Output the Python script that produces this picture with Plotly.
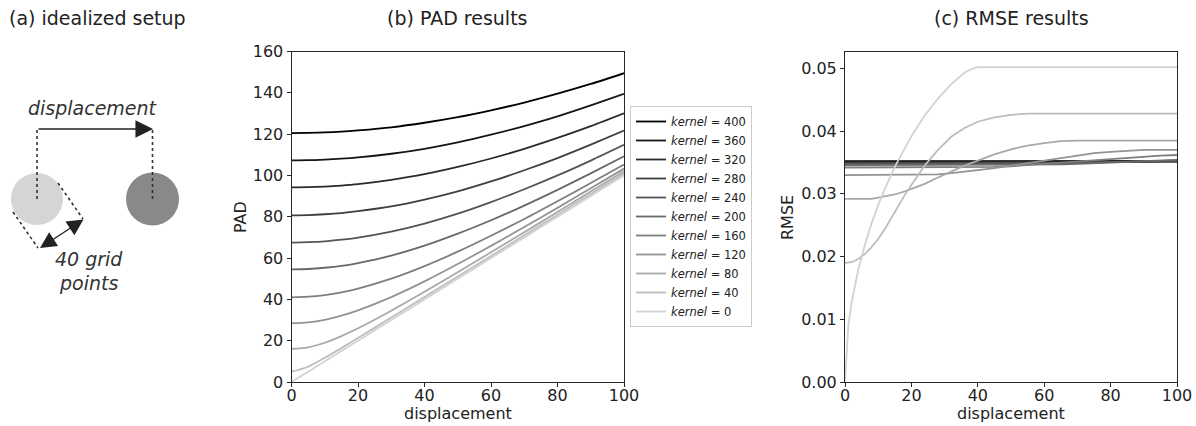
import plotly.graph_objects as go

W, H = 1196, 426

# ---------------- data ----------------
kernels = [400, 360, 320, 280, 240, 200, 160, 120, 80, 40, 0]

pad_disp = [0, 5, 10, 15, 20, 30, 40, 50, 60, 70, 80, 90, 100]
pad_k400 = [120.5, 120.6, 120.8, 121.2, 121.8, 123.3, 125.5, 128.2, 131.5, 135.3, 139.6, 144.3, 149.5]
pad_k360 = [107.3, 107.4, 107.7, 108.1, 108.7, 110.5, 112.9, 116.0, 119.7, 123.9, 128.6, 133.9, 139.5]
pad_k320 = [94.2, 94.3, 94.6, 95.1, 95.8, 97.9, 100.6, 104.1, 108.2, 112.9, 118.2, 123.9, 130.1]
pad_k280 = [80.7, 80.8, 81.2, 81.8, 82.7, 85.0, 88.3, 92.3, 97.1, 102.5, 108.4, 114.9, 121.7]
pad_k240 = [67.5, 67.7, 68.1, 68.9, 69.9, 72.8, 76.7, 81.5, 87.1, 93.3, 100.0, 107.2, 114.8]
pad_k200 = [54.5, 54.7, 55.3, 56.2, 57.6, 61.2, 66.0, 71.8, 78.3, 85.4, 93.0, 101.0, 109.3]
pad_k160 = [41.0, 41.3, 42.1, 43.4, 45.2, 50.0, 56.1, 63.1, 70.8, 78.9, 87.5, 96.3, 105.3]
pad_k120 = [28.5, 28.9, 30.1, 32.1, 34.7, 41.1, 48.7, 57.1, 65.9, 75.0, 84.3, 93.8, 103.3]
pad_k80 = [16.0, 16.8, 19.0, 22.2, 26.0, 34.5, 43.7, 53.1, 62.8, 72.5, 82.3, 92.2, 102.0]
pad_k40 = [5.0, 7.4, 11.7, 16.4, 21.3, 31.2, 41.1, 51.1, 61.0, 71.0, 81.0, 91.0, 101.0]
pad_k0 = [0, 5, 10, 15, 20, 30, 40, 50, 60, 70, 80, 90, 100]

rmse_disp = [0, 1, 2, 4, 6, 8, 10, 12, 15, 18, 20, 24, 28, 32, 36, 38, 40,
             45, 50, 55, 60, 65, 70, 75, 80, 85, 90, 95, 100]
rmse_k400 = [0.0352, 0.0352, 0.0352, 0.0352, 0.0352, 0.0352, 0.0352, 0.0352, 0.0352, 0.0352,
             0.0352, 0.0352, 0.0352, 0.0352, 0.0352, 0.0352, 0.0352, 0.0352, 0.0352, 0.0352,
             0.0352, 0.0352, 0.0352, 0.0352, 0.0352, 0.0352, 0.0352, 0.0352, 0.0352]
rmse_k360 = [0.0351, 0.0351, 0.0351, 0.0351, 0.0351, 0.0351, 0.0351, 0.0351, 0.0351, 0.0351,
             0.0351, 0.0351, 0.0351, 0.0351, 0.0351, 0.0351, 0.0351, 0.0351, 0.0351, 0.0351,
             0.0351, 0.0351, 0.0351, 0.0351, 0.0351, 0.0351, 0.0352, 0.0352, 0.0352]
rmse_k320 = [0.0350, 0.0350, 0.0350, 0.0350, 0.0350, 0.0350, 0.0350, 0.0350, 0.0350, 0.0350,
             0.0350, 0.0350, 0.0350, 0.0350, 0.0350, 0.0350, 0.0350, 0.0350, 0.0350, 0.0350,
             0.0350, 0.0350, 0.0350, 0.0350, 0.0351, 0.0351, 0.0351, 0.0352, 0.0352]
rmse_k280 = [0.0349, 0.0349, 0.0349, 0.0349, 0.0349, 0.0349, 0.0349, 0.0349, 0.0349, 0.0349,
             0.0349, 0.0349, 0.0349, 0.0349, 0.0349, 0.0349, 0.0349, 0.0349, 0.0349, 0.0349,
             0.0349, 0.0349, 0.0350, 0.0350, 0.0351, 0.0351, 0.0351, 0.0352, 0.0352]
rmse_k240 = [0.0348, 0.0348, 0.0348, 0.0348, 0.0348, 0.0348, 0.0348, 0.0348, 0.0348, 0.0348,
             0.0348, 0.0348, 0.0348, 0.0348, 0.0348, 0.0348, 0.0348, 0.0348, 0.0348, 0.0348,
             0.0349, 0.0349, 0.0350, 0.0350, 0.0351, 0.0351, 0.0352, 0.0352, 0.0353]
rmse_k200 = [0.0346, 0.0346, 0.0346, 0.0346, 0.0346, 0.0346, 0.0346, 0.0346, 0.0346, 0.0346,
             0.0346, 0.0346, 0.0346, 0.0346, 0.0346, 0.0346, 0.0346, 0.0346, 0.0346, 0.0346,
             0.0347, 0.0347, 0.0348, 0.0349, 0.0350, 0.0351, 0.0352, 0.0353, 0.0354]
rmse_k160 = [0.0342, 0.0342, 0.0342, 0.0342, 0.0342, 0.0342, 0.0342, 0.0342, 0.0342, 0.0342,
             0.0342, 0.0342, 0.0342, 0.0342, 0.0342, 0.0342, 0.0342, 0.0343, 0.0344, 0.0346,
             0.0348, 0.0350, 0.0352, 0.0354, 0.0356, 0.0358, 0.0360, 0.0361, 0.0362]
rmse_k120 = [0.0330, 0.0330, 0.0330, 0.0330, 0.0330, 0.0330, 0.0330, 0.0330, 0.0330, 0.0330,
             0.0330, 0.0330, 0.0331, 0.0333, 0.0335, 0.0336, 0.0338, 0.0341, 0.0345, 0.0350,
             0.0354, 0.0358, 0.0362, 0.0365, 0.0367, 0.0369, 0.0370, 0.0370, 0.0370]
rmse_k80 = [0.0292, 0.0292, 0.0292, 0.0292, 0.0292, 0.0292, 0.0294, 0.0296, 0.0299, 0.0304,
            0.0308, 0.0316, 0.0326, 0.0336, 0.0345, 0.0349, 0.0353, 0.0363, 0.0371, 0.0377,
            0.0381, 0.0384, 0.0385, 0.0385, 0.0385, 0.0385, 0.0385, 0.0385, 0.0385]
rmse_k40 = [0.0190, 0.0190, 0.0191, 0.0196, 0.0204, 0.0215, 0.0228, 0.0244, 0.0272, 0.0298,
            0.0314, 0.0345, 0.0370, 0.0391, 0.0405, 0.0410, 0.0415, 0.0422, 0.0426, 0.0428,
            0.0428, 0.0428, 0.0428, 0.0428, 0.0428, 0.0428, 0.0428, 0.0428, 0.0428]
rmse_k0 = [0.0, 0.0090, 0.0127, 0.0179, 0.0219, 0.0253, 0.0282, 0.0308, 0.0343, 0.0373,
           0.0392, 0.0425, 0.0452, 0.0475, 0.0493, 0.0499, 0.0502, 0.0502, 0.0502, 0.0502,
           0.0502, 0.0502, 0.0502, 0.0502, 0.0502, 0.0502, 0.0502, 0.0502, 0.0502]

pad_series = [pad_k400, pad_k360, pad_k320, pad_k280, pad_k240, pad_k200,
              pad_k160, pad_k120, pad_k80, pad_k40, pad_k0]
rmse_series = [rmse_k400, rmse_k360, rmse_k320, rmse_k280, rmse_k240, rmse_k200,
               rmse_k160, rmse_k120, rmse_k80, rmse_k40, rmse_k0]

pad_yticks = [0, 20, 40, 60, 80, 100, 120, 140, 160]
rmse_yticks = [0.00, 0.01, 0.02, 0.03, 0.04, 0.05]
x_ticks = [0, 20, 40, 60, 80, 100]

# ---------------- styles ----------------
gray_levels = [0, 21, 42, 63, 84, 105, 126, 147, 168, 189, 210]
line_colors = ["rgb(%d,%d,%d)" % (g, g, g) for g in gray_levels]
FONT = "DejaVu Sans"
TXT = "#222222"
AX = "#262626"


def px(x):
    return x / W


def py(y):
    return 1 - y / H


fig = go.Figure()

for k, vals, col in zip(kernels, pad_series, line_colors):
    fig.add_trace(go.Scatter(
        x=pad_disp, y=vals, mode="lines", name="<i>kernel</i> = %d" % k,
        line=dict(color=col, width=1.8, shape="spline", smoothing=0.8),
        xaxis="x", yaxis="y", showlegend=True))

for k, vals, col in zip(kernels, rmse_series, line_colors):
    fig.add_trace(go.Scatter(
        x=rmse_disp, y=vals, mode="lines", name="kernel = %d" % k,
        line=dict(color=col, width=1.8),
        xaxis="x2", yaxis="y2", showlegend=False))

axis_common = dict(
    showline=True, mirror=True, linecolor=AX, linewidth=1,
    ticks="outside", ticklen=4, tickwidth=1, tickcolor=AX,
    showgrid=False, zeroline=False, automargin=False,
    tickfont=dict(family=FONT, size=16, color=TXT),
)

y_dom = [py(382), py(51.5)]

fig.update_layout(
    width=W, height=H,
    margin=dict(l=0, r=0, t=0, b=0),
    paper_bgcolor="white", plot_bgcolor="white",
    font=dict(family=FONT, color=TXT),
    xaxis=dict(domain=[px(291.5), px(624)], range=[0, 100], tickvals=x_ticks,
               anchor="y", ticklabelstandoff=-5, **axis_common),
    yaxis=dict(domain=y_dom, range=[0, 160], tickvals=pad_yticks,
               anchor="x", **axis_common),
    xaxis2=dict(domain=[px(845), px(1177)], range=[0, 100], tickvals=x_ticks,
                anchor="y2", ticklabelstandoff=-5, **axis_common),
    yaxis2=dict(domain=y_dom, range=[0, 0.0527], tickvals=rmse_yticks,
                tickformat=".2f", anchor="x2", **axis_common),
    xaxis3=dict(domain=[0, px(239.2)], range=[0, 239.2], visible=False,
                anchor="y3", fixedrange=True),
    yaxis3=dict(domain=[0, 1], range=[H, 0], visible=False,
                anchor="x3", fixedrange=True),
    legend=dict(x=px(630), y=py(216.5), xanchor="left", yanchor="middle",
                bgcolor="white", bordercolor="#cccccc", borderwidth=1,
                font=dict(family=FONT, size=11.5, color=TXT),
                tracegroupgap=0),
    showlegend=True,
)

# ---------------- panel (a) schematic (pixel-like coords on hidden axis) ----------------
circle_light = dict(cx=37, cy=199, r=26, color="#d4d5d7")
circle_dark = dict(cx=152.5, cy=199, r=26.5, color="#88898b")
dotted_segments = [
    (37, 130, 37, 200),
    (152.5, 130, 152.5, 200),
    (58, 183, 83, 219),
    (13, 212, 38, 248),
]

shapes = []
for c in (circle_light, circle_dark):
    shapes.append(dict(type="circle", xref="x3", yref="y3",
                       x0=c["cx"] - c["r"], x1=c["cx"] + c["r"],
                       y0=c["cy"] - c["r"], y1=c["cy"] + c["r"],
                       fillcolor=c["color"], line=dict(width=0), layer="below"))
for (x0, y0, x1, y1) in dotted_segments:
    shapes.append(dict(type="line", xref="x3", yref="y3", x0=x0, y0=y0, x1=x1, y1=y1,
                       line=dict(color="#333333", width=1.6, dash="dot")))
fig.update_layout(shapes=shapes)

ann = []
# displacement arrow
ann.append(dict(xref="x3", yref="y3", axref="x3", ayref="y3",
                x=153, y=129, ax=37, ay=129, text="", showarrow=True,
                arrowhead=2, arrowsize=2.7, arrowwidth=1.3, arrowcolor="#222222"))
# 40 grid points double arrow
ann.append(dict(xref="x3", yref="y3", axref="x3", ayref="y3",
                x=83.5, y=219.5, ax=38.5, ay=249, text="", showarrow=True,
                arrowhead=2, startarrowhead=2, arrowside="end+start",
                arrowsize=2.5, startarrowsize=2.5, arrowwidth=1.3, arrowcolor="#222222"))
ann.append(dict(xref="x3", yref="y3", x=93, y=108, text="<i>displacement</i>",
                showarrow=False, font=dict(family=FONT, size=19, color="#333333"),
                xanchor="center", yanchor="middle"))
ann.append(dict(xref="x3", yref="y3", x=88.5, y=259, text="<i>40 grid</i>",
                showarrow=False, font=dict(family=FONT, size=19, color="#333333"),
                xanchor="center", yanchor="middle"))
ann.append(dict(xref="x3", yref="y3", x=88.5, y=283, text="<i>points</i>",
                showarrow=False, font=dict(family=FONT, size=19, color="#333333"),
                xanchor="center", yanchor="middle"))

# titles
title_font = dict(family=FONT, size=19, color=TXT)
ann.append(dict(xref="paper", yref="paper", x=px(7), y=py(18), text="(a) idealized setup",
                showarrow=False, font=title_font, xanchor="left", yanchor="middle"))
ann.append(dict(xref="paper", yref="paper", x=px(457.5), y=py(18), text="(b) PAD results",
                showarrow=False, font=title_font, xanchor="center", yanchor="middle"))
ann.append(dict(xref="paper", yref="paper", x=px(1011), y=py(18), text="(c) RMSE results",
                showarrow=False, font=title_font, xanchor="center", yanchor="middle"))

# axis titles
lab_font = dict(family=FONT, size=16, color=TXT)
ann.append(dict(xref="paper", yref="paper", x=px(457.5), y=py(413), text="displacement",
                showarrow=False, font=lab_font, xanchor="center", yanchor="middle"))
ann.append(dict(xref="paper", yref="paper", x=px(1011), y=py(413), text="displacement",
                showarrow=False, font=lab_font, xanchor="center", yanchor="middle"))
ann.append(dict(xref="paper", yref="paper", x=px(240), y=py(217), text="PAD",
                showarrow=False, font=lab_font, textangle=-90,
                xanchor="center", yanchor="middle"))
ann.append(dict(xref="paper", yref="paper", x=px(787), y=py(217), text="RMSE",
                showarrow=False, font=lab_font, textangle=-90,
                xanchor="center", yanchor="middle"))

fig.update_layout(annotations=ann)

fig.write_html("out.html")
